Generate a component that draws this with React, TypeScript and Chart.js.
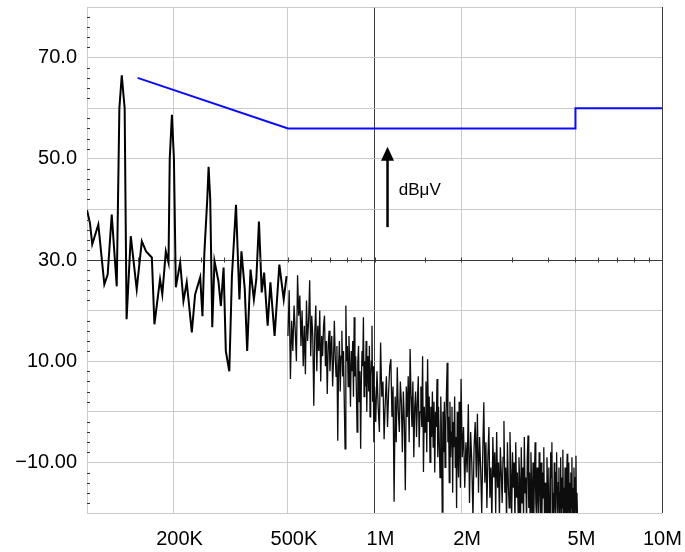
import React, { useEffect, useRef } from 'react';
import { Chart, registerables } from 'chart.js';

Chart.register(...registerables);

// ---- axis ticks / labels ----
const xTickValues = [1e5, 2e5, 5e5, 1e6, 2e6, 5e6, 1e7];
const xTickLabels = ['', '200K', '500K', '1M', '2M', '5M', '10M  '];
const xAxisMarkFreqs = [150e3, 200e3, 250e3, 300e3, 400e3, 500e3, 600e3, 700e3, 800e3, 900e3, 1e6, 1.5e6, 2e6, 3e6, 4e6, 5e6, 6e6, 7e6, 8e6, 9e6];
const yLabelValues = [70, 50, 30, 10, -10];
const yLabelTexts = ['70.0', '50.0', '30.0', '10.00', '\u221210.00'];

// ---- limit line (blue) ----
const limitFreqs = [150e3, 500e3, 5e6, 5e6, 10e6];
const limitLevels = [66, 56, 56, 60, 60];

// ---- measured trace, low-frequency part (kHz, dBµV) ----
const lowFreqKHz = [100, 102.4, 104.3, 109.5, 114.9, 118.0, 121.9, 126.9, 129.6, 132.1,
  135.2, 137.3, 142.0, 148.9, 155.1, 160.5, 168.1, 171.6, 179.5, 182.8,
  188.0, 192.1, 194.0, 197.4, 200.6, 203.7, 210.9, 216.5, 222.3, 231.5,
  237.7, 247.6, 252.1, 256.0, 262.0, 264.8, 268.3, 272.7, 277.6, 286.5,
  292.2, 298.6, 304.0, 312.6, 319.2, 329.8, 339.0, 344.5, 353.8, 360.7,
  370.5, 380.6, 388.1, 396.4, 405.3, 413.1, 425.0, 434.4, 449.3, 466.7,
  483.3, 494.5];
const lowLevels = [39.9, 37.3, 33.1, 37.0, 25.2, 27.1, 39.0, 24.8, 60, 66.5,
  60, 18.3, 34.7, 24.2, 33.7, 31.7, 30.5, 17.3, 26.2, 23.2,
  31.7, 29.5, 50, 58.7, 50, 24.6, 29.5, 21.9, 25.6, 15.7,
  23.2, 26.6, 18.9, 31.4, 42, 48.4, 42, 16.7, 29.8, 25.8,
  20.9, 28.5, 12, 8, 26.8, 40.9, 22.2, 31.7, 24.2, 12,
  28.1, 22.2, 26.2, 37.6, 23.6, 27.5, 17, 25.6, 15, 29.1,
  22.2, 26.8];

// ---- measured trace, 500 kHz - 1 MHz (bins 5 kHz apart) ----
const binsAStartKHz = 500;
const binsAStepKHz = 5;
const binsALevels = [
  15, 24, 6.5, 18, 12, 21, 16, 10, 27, 19,
  23, 13, 20, 9, 17, 7.4, 22, 14, 18, 26,
  11, 19, 15, 1.2, 16, 21, 8, 17, 12, 20,
  6, 15, 11, 17, 19, 9, 14, 3.5, 13, 16,
  8, 12, 15, 5, 10, 18, 11, 7, 13, -5.7,
  9, 14, 4, 11, 16, 7, 12, 2, -7.3, 21,
  10, 13, 5, 15, 9, 1, 12, 8, 14, 3,
  18.7, 7, 11, 4, -4, 10, 13, 2, 8, -7.3,
  6, 12, 9, 18.7, 3, 10, 5, 14, 0, 8,
  11, 4, 13, -1, 7, 10, 17, 2, 9, -6,
];

// ---- measured trace, 1 MHz - 2 MHz (bins 10 kHz apart) ----
const binsBStartKHz = 1000;
const binsBStepKHz = 10;
const binsBLevels = [
  5, -2, 8, 1, -4, 13.7, 3, 6, -5.4, 2,
  7, -3, 4, 9, 10.4, -1, 5, -17.8, 3, -6,
  8.8, 0, -4, 6, 2, -8, 4, -2, -15.5, 5,
  -1, 7, -6, 12.4, 3, -3, 6, -9, 1, 4,
  -5, 2, 7, -7, 0, 5, -3, 11, -11.9, 1,
  -4, 6, -8, 10.4, -2, 3, -10, 1, -5, 4,
  -7, 2, -12, 0, -3, 6.5, -9, 1, -6, -13,
  3, -4, -19.8, 0, -8, 2, -11, -3, 4, 9.7,
  -6, -1, -14, 2, -9, -4, 1, -16, -2, -7,
  3, -11, -5, -19, 0, -8, -13, 2, -6, -15,
];

// ---- measured trace, 2 MHz - 5.1 MHz (bins 20 kHz apart) ----
const binsCStartKHz = 2000;
const binsCStepKHz = 20;
const binsCLevels = [
  6.5, -9, -3, -15, -6, -12, 1.5, -18, -4, -10,
  -21, -7, -2, -13, -0.4, -16, -5, -11, -20, -8,
  1.9, -14, -6, -19, -9, -3, -17, -11, -22, -5,
  -13, -8, -20, -4, -15, -10, -21, -7, -12, -18,
  -9, -1.8, -16, -11, -22, -6, -14, -19, -4, -12,
  -21, -8, -15, -10, -22, -6, -17, -12, -20, -9,
  -14, -22, -7, -18, -11, -21, -5, -16, -13, -22,
  -9, -4.7, -19, -12, -22, -8, -15, -20, -10, -22,
  -13, -6, -18, -21, -11, -16, -22, -8, -14, -20,
  -10, -22, -12, -17, -7, -21, -14, -19, -22, -9,
  -15, -21, -11, -18, -22, -8, -13, -6, -20, -16,
  -22, -10, -17, -21, -12, -8, -19, -22, -14, -11,
  -21, -16, -9, -22, -13, -19, -7.5, -20, -15, -22,
  -11, -18, -21, -13, -8.3, -22, -16, -10, -20, -14,
  -22, -12, -19, -9, -21, -15, -22, -11, -18, -20,
  -13, -8.7, -22, -16, -20,
];

// ---- annotation ----
const arrowFreq = 1.11e6;
const arrowFromLevel = 36.5;
const arrowToLevel = 52.4;
const unitLabel = 'dB\u03bcV';
const unitLabelFreq = 1.215e6;
const unitLabelLevel = 42.8;

const FONT = "'Liberation Sans', Arial, sans-serif";
const GRID = '#c9cdc9';
const AXIS = '#3c3c3c';

const overlayPlugin = {
  id: 'overlay',
  afterDatasetsDraw(chart: any) {
    const { ctx, chartArea } = chart;
    const xs = chart.scales.x;
    const ys = chart.scales.y;
    ctx.save();
    ctx.strokeStyle = '#333';
    ctx.lineWidth = 1;
    for (let v = -18; v < 80; v += 2) {
      if (v % 10 === 0) continue;
      const y = Math.round(ys.getPixelForValue(v)) + 0.5;
      ctx.beginPath();
      ctx.moveTo(chartArea.left, y);
      ctx.lineTo(chartArea.left + 3, y);
      ctx.stroke();
    }
    const y30 = ys.getPixelForValue(30);
    ctx.strokeStyle = AXIS;
    for (const f of xAxisMarkFreqs) {
      const x = Math.round(xs.getPixelForValue(f)) + 0.5;
      ctx.beginPath();
      ctx.moveTo(x, y30 - 2.5);
      ctx.lineTo(x, y30 + 2.5);
      ctx.stroke();
    }
    const ax = xs.getPixelForValue(arrowFreq);
    const yb = ys.getPixelForValue(arrowFromLevel);
    const yt = ys.getPixelForValue(arrowToLevel);
    ctx.strokeStyle = '#000';
    ctx.fillStyle = '#000';
    ctx.lineWidth = 2.5;
    ctx.beginPath();
    ctx.moveTo(ax, yb);
    ctx.lineTo(ax, yt + 10);
    ctx.stroke();
    ctx.beginPath();
    ctx.moveTo(ax, yt);
    ctx.lineTo(ax - 6.5, yt + 14);
    ctx.lineTo(ax + 6.5, yt + 14);
    ctx.closePath();
    ctx.fill();
    ctx.font = `17px ${FONT}`;
    ctx.textAlign = 'left';
    ctx.textBaseline = 'alphabetic';
    ctx.fillText(unitLabel, xs.getPixelForValue(unitLabelFreq), ys.getPixelForValue(unitLabelLevel));
    ctx.restore();
  },
};

export default function App() {
  const ref = useRef<HTMLCanvasElement>(null);
  useEffect(() => {
    if (!ref.current) return;
    const low = lowFreqKHz.map((f, i) => ({ x: f * 1000, y: lowLevels[i] }));
    const dense = [
      ...binsALevels.map((v, i) => ({ x: (binsAStartKHz + i * binsAStepKHz) * 1000, y: v })),
      ...binsBLevels.map((v, i) => ({ x: (binsBStartKHz + i * binsBStepKHz) * 1000, y: v })),
      ...binsCLevels.map((v, i) => ({ x: (binsCStartKHz + i * binsCStepKHz) * 1000, y: v })),
    ];
    const limit = limitFreqs.map((f, i) => ({ x: f, y: limitLevels[i] }));
    const chart = new Chart(ref.current, {
      type: 'line',
      data: {
        datasets: [
          { data: low, borderColor: '#000', borderWidth: 2, pointRadius: 0, tension: 0 },
          { data: dense, borderColor: '#0d0d0d', borderWidth: 1.3, pointRadius: 0, tension: 0 },
          { data: limit, borderColor: '#0a0aff', borderWidth: 2, pointRadius: 0, tension: 0 },
        ],
      },
      options: {
        animation: false,
        responsive: false,
        devicePixelRatio: 1,
        parsing: false as any,
        normalized: true,
        layout: { padding: { left: 0, right: 23, top: 7, bottom: 0 } },
        plugins: { legend: { display: false }, tooltip: { enabled: false } },
        scales: {
          x: {
            type: 'logarithmic',
            min: 1e5,
            max: 1e7,
            afterBuildTicks: (scale: any) => {
              scale.ticks = xTickValues.map((v) => ({ value: v }));
            },
            afterFit: (scale: any) => {
              scale.height = 39;
              scale.paddingLeft = 0;
              scale.paddingRight = 0;
            },
            border: { display: false },
            grid: {
              drawTicks: false,
              lineWidth: 1,
              color: (c: any) => (c.tick && (c.tick.value === 1e6 || c.tick.value === 1e7) ? AXIS : GRID),
            },
            ticks: {
              autoSkip: false,
              maxRotation: 0,
              labelOffset: 6,
              padding: 14,
              color: '#000',
              font: { family: FONT, size: 20 },
              callback: (value: any) => {
                const i = xTickValues.indexOf(Number(value));
                return i >= 0 ? xTickLabels[i] : '';
              },
            },
          },
          y: {
            type: 'linear',
            min: -20,
            max: 80,
            afterFit: (scale: any) => {
              scale.width = 87;
              scale.paddingTop = 0;
              scale.paddingBottom = 0;
            },
            border: { display: false },
            grid: {
              drawTicks: false,
              lineWidth: 1,
              color: (c: any) => (c.tick && c.tick.value === 30 ? AXIS : GRID),
            },
            ticks: {
              stepSize: 10,
              padding: 10,
              color: '#000',
              font: { family: FONT, size: 20 },
              callback: (value: any) => {
                const i = yLabelValues.indexOf(Number(value));
                return i >= 0 ? yLabelTexts[i] : '';
              },
            },
          },
        },
      },
      plugins: [overlayPlugin],
    });
    return () => chart.destroy();
  }, []);
  return (
    <div style={{ position: 'absolute', left: 0, top: 0, width: 685, height: 552, background: '#fff' }}>
      <canvas ref={ref} width={685} height={552} style={{ display: 'block' }} />
    </div>
  );
}
